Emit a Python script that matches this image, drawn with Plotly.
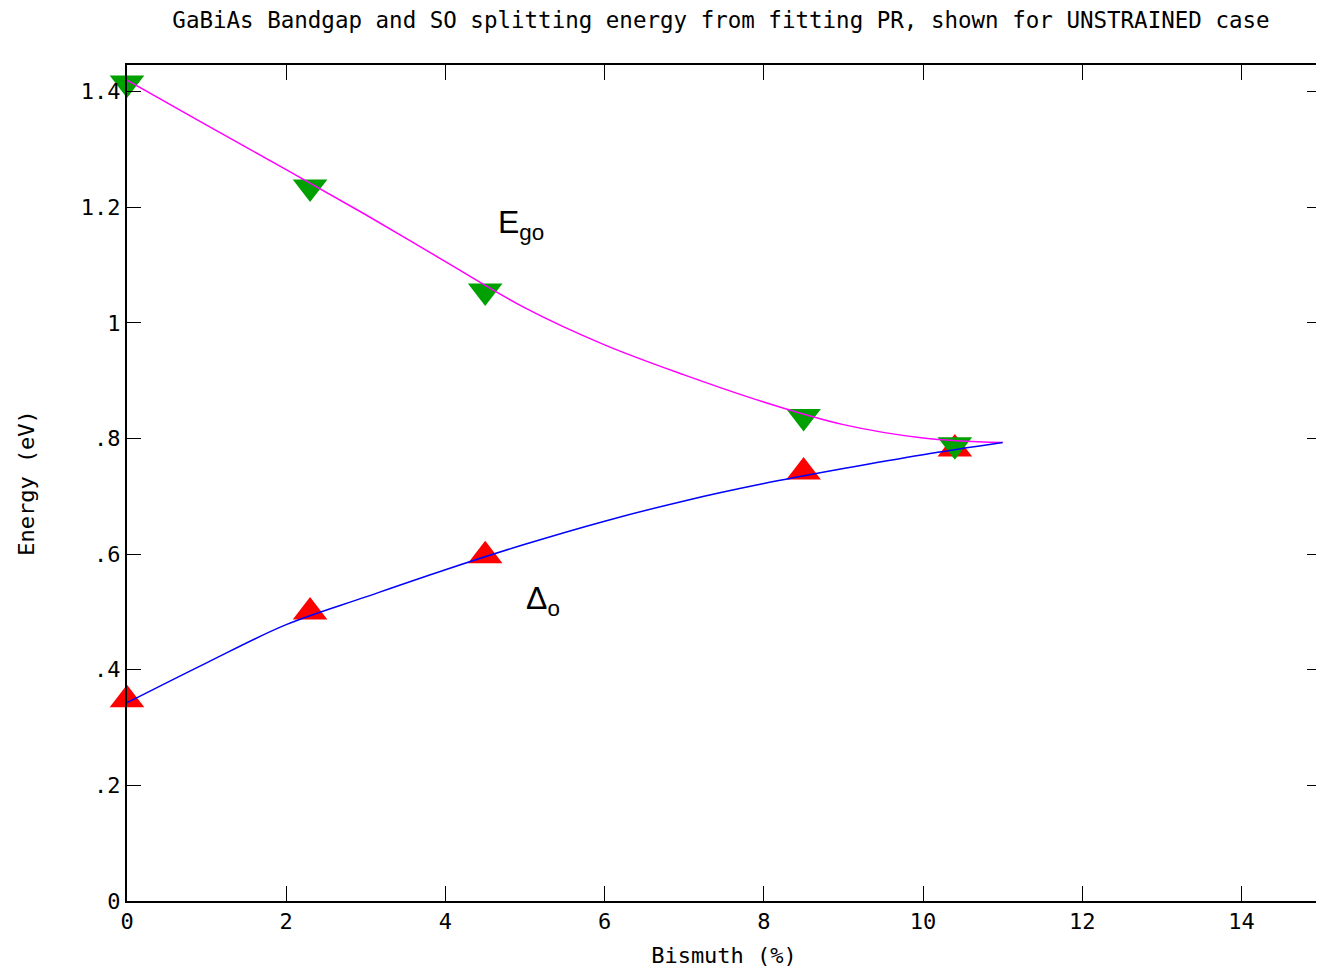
import plotly.graph_objects as go

# Measured data points
bi_pts = [0.0, 2.3, 4.5, 8.5, 10.4]
ego_pts = [1.415, 1.235, 1.055, 0.838, 0.789]
so_pts = [0.348, 0.500, 0.597, 0.742, 0.782]

# Fitted curves
bi_fit = [0, 1, 2, 3, 4, 5, 6, 7, 8, 9, 10, 11]
ego_fit = [1.420, 1.342, 1.265, 1.187, 1.106, 1.026, 0.962, 0.910, 0.863, 0.824, 0.801, 0.793]
so_fit = [0.343, 0.412, 0.478, 0.526, 0.573, 0.617, 0.657, 0.692, 0.722, 0.748, 0.772, 0.793]

y_tickvals = [0, 0.2, 0.4, 0.6, 0.8, 1.0, 1.2, 1.4]
y_ticktext = ["0", ".2", ".4", ".6", ".8", "1", "1.2", "1.4"]
x_tickvals = [0, 2, 4, 6, 8, 10, 12, 14]

mono = "DejaVu Sans Mono"

fig = go.Figure()
fig.add_trace(go.Scatter(x=bi_pts, y=so_pts, mode="markers",
                         marker=dict(symbol="triangle-up", size=30, color="#ff0000"),
                         showlegend=False, cliponaxis=False))
fig.add_trace(go.Scatter(x=bi_pts, y=ego_pts, mode="markers",
                         marker=dict(symbol="triangle-down", size=30, color="#00a000"),
                         showlegend=False, cliponaxis=False))
fig.add_trace(go.Scatter(x=bi_fit, y=ego_fit, mode="lines",
                         line=dict(color="#ff00ff", width=1.5, shape="spline"),
                         showlegend=False))
fig.add_trace(go.Scatter(x=bi_fit, y=so_fit, mode="lines",
                         line=dict(color="#0000ff", width=1.5, shape="spline"),
                         showlegend=False))

fig.add_annotation(x=4.95, y=1.17, text="E<sub>go</sub>", showarrow=False,
                   font=dict(family="Liberation Sans", size=32, color="black"))
fig.add_annotation(x=5.23, y=0.52, text="Δ<sub>o</sub>", showarrow=False,
                   font=dict(family="Liberation Sans", size=32, color="black"))

fig.update_layout(
    width=1324, height=969,
    margin=dict(l=119, r=9, t=57, b=76),
    paper_bgcolor="white", plot_bgcolor="white",
    title=dict(text="GaBiAs Bandgap and SO splitting energy from fitting PR, shown for UNSTRAINED case",
               x=0.5385, xanchor="center", y=0.988, yanchor="middle",
               font=dict(family=mono, size=22.5, color="black")),
    font=dict(family=mono, size=22, color="black"),
)
fig.update_xaxes(range=[0, 15], tickvals=x_tickvals, ticks="inside", ticklen=15,
                 tickcolor="black", tickwidth=1, showline=True, linecolor="black",
                 linewidth=2, mirror="ticks", showgrid=False, zeroline=False,
                 title=dict(text="Bismuth (%)", standoff=14, font=dict(family=mono, size=22)),
                 tickfont=dict(family=mono, size=22))
fig.update_yaxes(range=[0, 1.446], tickvals=y_tickvals, ticktext=y_ticktext,
                 ticks="inside", ticklen=14, tickcolor="black", tickwidth=1,
                 showline=True, linecolor="black", linewidth=2, mirror="ticks",
                 showgrid=False, zeroline=False,
                 title=dict(text="Energy (eV)", standoff=40, font=dict(family=mono, size=22)),
                 tickfont=dict(family=mono, size=22))

fig.write_html("out.html")
